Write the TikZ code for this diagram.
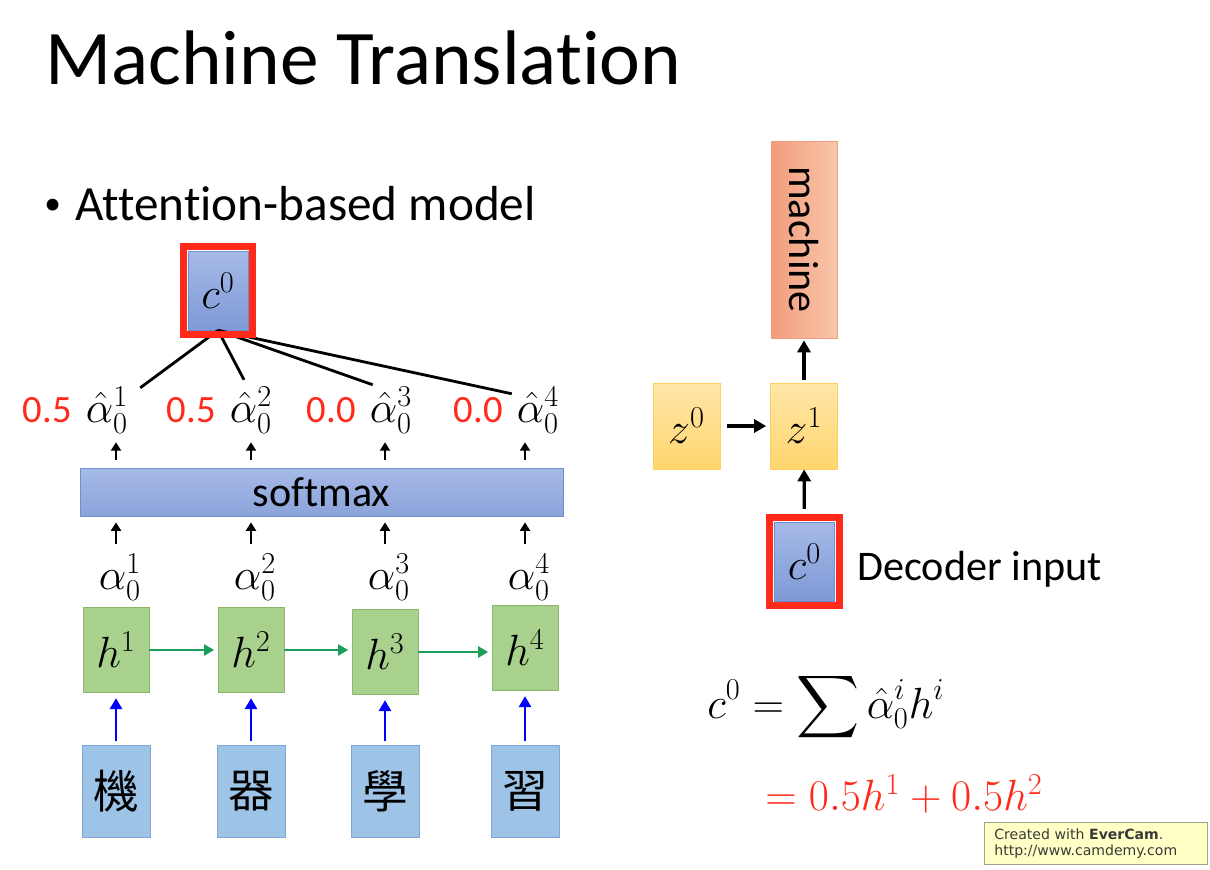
\documentclass[tikz,border=0pt]{standalone}
\usepackage{amsmath}
\usepackage{fontspec}
\usepackage{graphicx}
\setmainfont{Carlito}[Ligatures=NoCommon]
\newfontfamily\cjkfont{Noto Sans CJK TC}
\newfontfamily\markfont{DejaVu Sans}
\usetikzlibrary{positioning, arrows.meta, calc, fit}

\definecolor{encgreen}{HTML}{A9D18E}
\definecolor{encgreenline}{HTML}{8BB66C}
\definecolor{inblue}{HTML}{9DC3E6}
\definecolor{inblueline}{HTML}{7FA6D6}
\definecolor{ctxtop}{HTML}{A5BAE7}
\definecolor{ctxbot}{HTML}{7F99D6}
\definecolor{ctxline}{HTML}{6F8ED0}
\definecolor{zlight}{HTML}{FFE6A8}
\definecolor{zdark}{HTML}{FFD66E}
\definecolor{zline}{HTML}{FFD060}
\definecolor{outleft}{HTML}{F29C7C}
\definecolor{outright}{HTML}{F8C6AA}
\definecolor{outline}{HTML}{EE9E80}
\definecolor{pptred}{HTML}{FF2A1A}
\definecolor{rnngreen}{HTML}{1C9E5A}
\definecolor{notebg}{HTML}{FFFFC6}
\definecolor{noteline}{HTML}{A2A28A}
\definecolor{notetext}{HTML}{3A3A3A}

\tikzset{
  titletext/.style={inner sep=0pt, font=\fontsize{44}{50}\selectfont},
  bullettext/.style={inner sep=0pt, font=\fontsize{28}{32}\selectfont},
  hbox/.style={draw=encgreenline, fill=encgreen, minimum width=1.32cm, minimum height=1.7cm, inner sep=0pt, font=\fontsize{26}{30}\selectfont},
  inbox/.style={draw=inblueline, fill=inblue, minimum width=1.36cm, minimum height=1.84cm, inner sep=0pt, font=\cjkfont\fontsize{26}{30}\selectfont},
  ctxbox/.style={draw=ctxline, top color=ctxtop, bottom color=ctxbot, minimum width=1.2cm, minimum height=1.58cm, inner sep=0pt, font=\fontsize{27}{30}\selectfont},
  redframe/.style={draw=pptred, line width=4pt, inner sep=2.5pt},
  zbox/.style={draw=zline, top color=zlight, bottom color=zdark, minimum width=1.34cm, minimum height=1.72cm, inner sep=0pt, font=\fontsize{26}{30}\selectfont},
  outbox/.style={draw=outline, left color=outleft, right color=outright, minimum width=1.32cm, minimum height=3.94cm, inner sep=0pt, font=\fontsize{24}{28}\selectfont},
  softbar/.style={draw=ctxline, top color=ctxtop, bottom color=ctxbot!90!white, minimum width=9.66cm, minimum height=0.96cm, inner sep=0pt, font=\fontsize{24}{28}\selectfont},
  alabel/.style={inner sep=1pt, font=\fontsize{25}{28}\selectfont},
  wval/.style={inner sep=1pt, text=pptred, font=\fontsize{22}{26}\selectfont},
  eqn/.style={inner sep=0pt, font=\fontsize{27}{30}\selectfont},
  notebox/.style={draw=noteline, fill=notebg, text=notetext, align=left, text width=4.06cm, inner xsep=0.2cm, inner ysep=0.12cm, font=\markfont\fontsize{8}{9.6}\selectfont},
  smallarr/.style={-{Triangle[length=1.7mm, width=2mm]}, line width=1.2pt},
  bigarr/.style={-{Triangle[length=2.4mm, width=2.6mm]}, line width=1.8pt},
  rnnarr/.style={-{Triangle[length=2mm, width=2.2mm]}, line width=1.3pt, rnngreen},
  inarr/.style={-{Triangle[length=2.2mm, width=2.4mm]}, line width=1.6pt, blue},
  attline/.style={line width=1.6pt},
}

\begin{document}
\begin{tikzpicture}[x=0.02cm, y=-0.02cm]
  \useasboundingbox (0,0) rectangle (1210,869);

  % ----------------------------------------------------
  % Title
  % ----------------------------------------------------
  \node[titletext, anchor=base west] (title) at (45,84) {Machine Translation};
  \node[bullettext, font=\fontsize{19}{22}\selectfont, anchor=base west] (dot) at (44,214) {\textbullet};
  \node[bullettext, anchor=base west] (bullet) at (75,220) {Attention-based model};

  % ----------------------------------------------------
  % Encoder: inputs, hidden states, match scores
  % ----------------------------------------------------
  \foreach \i/\x/\y/\w in {1/116/650/機, 2/251/650/器, 3/385/652/學, 4/525/648/習} {
    \node[hbox] (h\i) at (\x,\y) {$h^{\i}$};
    \node[inbox] (w\i) at (\x,791) {\w};
    \node[alabel] (a\i) at (\x+4,577) {$\alpha_0^{\i}$};
    \draw[inarr, shorten <=2pt, shorten >=3pt] (w\i.north) -- (h\i.south);
  }
  \foreach \i/\j in {1/2, 2/3, 3/4}
    \draw[rnnarr, shorten >=2pt] (h\i.east) -- (h\i.east -| h\j.west);

  % softmax
  \node[softbar] (softmax) at (321.5,492) {softmax};

  % normalised scores
  \foreach \i/\x/\v in {1/107/0.5, 2/251/0.5, 3/391/0.0, 4/538/0.0} {
    \node[alabel] (ah\i) at (\x,410) {$\hat{\alpha}_0^{\i}$};
    \node[wval, left=0.2cm of ah\i.base west, anchor=base east] (v\i) {\v};
    \draw[smallarr, shorten <=0.16cm, shorten >=0.12cm] (a\i.north -| h\i) -- (softmax.south -| h\i);
    \draw[smallarr, shorten <=0.16cm, shorten >=0.14cm] (softmax.north -| h\i) -- (ah\i.south -| h\i);
  }

  % context vector
  \node[ctxbox] (c0) at (218,290.5) {$c^0$};
  \draw[attline] (c0.south) -- ([xshift=0.2cm, yshift=-0.06cm]ah1.north east);
  \draw[attline] (c0.south) -- ([xshift=-0.14cm, yshift=0.1cm]ah2.north);
  \draw[attline] (c0.south) -- ([xshift=0.1cm]ah3.north west);
  \draw[attline] (c0.south) -- ([xshift=-0.06cm, yshift=-0.18cm]ah4.north west);
  \node[redframe, fit=(c0)] (c0frame) {};

  % ----------------------------------------------------
  % Decoder
  % ----------------------------------------------------
  \node[zbox] (z0) at (686.5,426) {$z^0$};
  \node[zbox] (z1) at (804,426) {$z^1$};
  \node[outbox] (out) at (804,239.5) {\rotatebox{-90}{machine}};
  \node[ctxbox] (c0in) at (804.5,561.5) {$c^0$};
  \node[redframe, fit=(c0in)] (c0inframe) {};
  \node[bullettext, font=\fontsize{24}{28}\selectfont, anchor=base west] (declabel) at (857,580) {Decoder input};

  \draw[bigarr, shorten <=0.14cm, shorten >=0.08cm] (z0) -- (z1);
  \draw[bigarr, shorten <=0.06cm, shorten >=0.04cm] (z1) -- (out);
  \draw[bigarr, shorten <=0.1cm] (c0inframe) -- (z1);

  % weighted sum
  \node[eqn, anchor=base west] (eq1) at (707,718) {$\displaystyle c^0 = \sum \hat{\alpha}_0^i h^i$};
  \node[eqn, text=pptred, anchor=base west] (eq2) at (765,810) {$= 0.5h^1 + 0.5h^2$};

  % recorder mark
  \node[notebox, anchor=north west] (note) at (984,822) {Created with \textbf{EverCam}.\\http://www.camdemy.com};
\end{tikzpicture}
\end{document}
